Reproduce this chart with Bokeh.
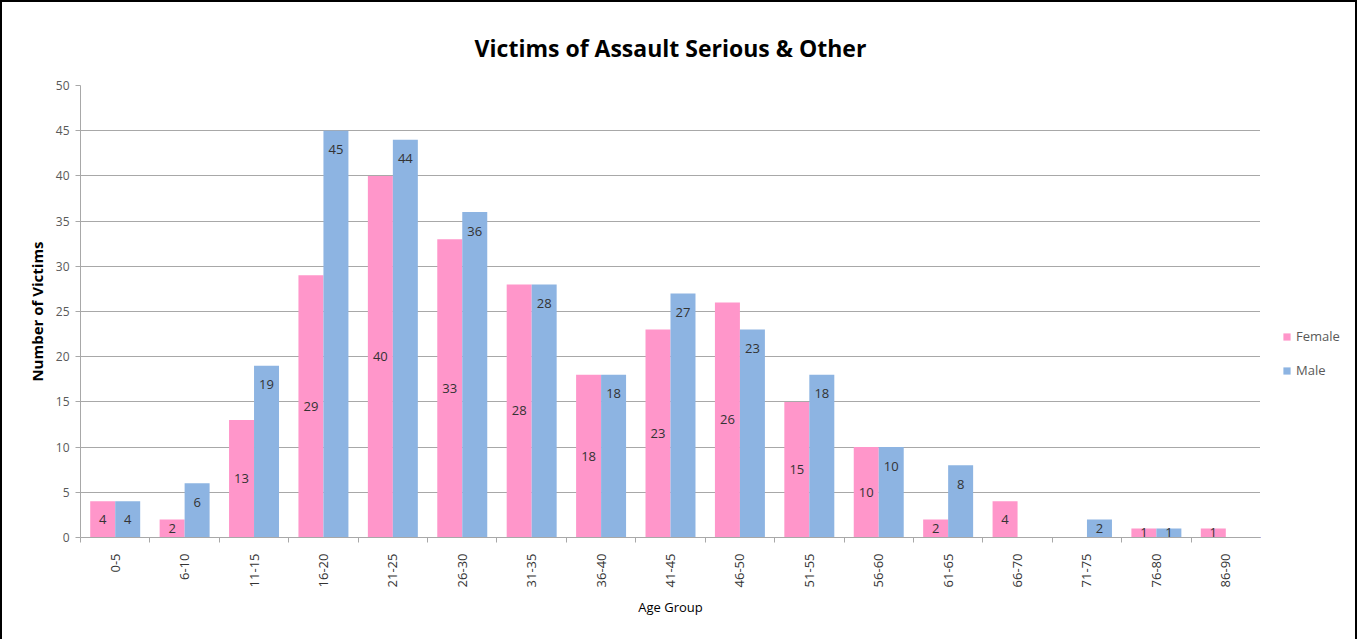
import math
from bokeh.plotting import figure
from bokeh.layouts import row
from bokeh.models import ColumnDataSource, FixedTicker, Range1d, Legend, LegendItem
from bokeh.core.properties import value
from bokeh.embed import file_html
from bokeh.resources import INLINE

categories = ["0-5", "6-10", "11-15", "16-20", "21-25", "26-30", "31-35", "36-40",
              "41-45", "46-50", "51-55", "56-60", "61-65", "66-70", "71-75", "76-80", "86-90"]
female = [4, 2, 13, 29, 40, 33, 28, 18, 23, 26, 15, 10, 2, 4, 0, 1, 1]
male = [4, 6, 19, 45, 44, 36, 28, 18, 27, 23, 18, 10, 8, 0, 2, 1, 0]
series_names = ["Female", "Male"]

PINK = "#FF96CA"
BLUE = "#8DB4E2"
FONT = "Open Sans"

n = len(categories)
centers = [i + 0.5 for i in range(n)]
bw = 0.36

f_src = ColumnDataSource(dict(
    x=[c - bw / 2 for c in centers], top=female,
    ly=[v / 2 for v in female], lab=[str(v) if v else "" for v in female]))
m_src = ColumnDataSource(dict(
    x=[c + bw / 2 for c in centers], top=male,
    ly=[max(v - 2.1, v / 2) for v in male], lab=[str(v) if v else "" for v in male]))

p = figure(width=1258, height=637, output_backend="svg", toolbar_location=None,
           x_range=Range1d(0, n), y_range=Range1d(0, 50),
           min_border_left=78, min_border_right=0, min_border_top=83, min_border_bottom=102)

p.title.text = "Victims of Assault Serious & Other"
p.title.align = "center"
p.title.text_font = FONT
p.title.text_font_size = "23px"
p.title.text_font_style = "bold"
p.title.text_color = "#000000"
p.title.standoff = 43

p.vbar(x="x", top="top", width=bw, source=f_src, fill_color=PINK, line_color=None)
p.vbar(x="x", top="top", width=bw, source=m_src, fill_color=BLUE, line_color=None)

for src in (f_src, m_src):
    p.text(x="x", y="ly", text="lab", source=src, text_align="center",
           text_baseline="middle", text_font=value(FONT), text_font_size="13px",
           text_color="#333333")

p.outline_line_color = None
p.xgrid.grid_line_color = None
p.ygrid.grid_line_color = "#A8A8A8"
p.ygrid.grid_line_width = 1
p.ygrid.ticker = FixedTicker(ticks=list(range(0, 51, 5)))

p.yaxis.ticker = FixedTicker(ticks=list(range(0, 51, 5)))
p.yaxis.axis_label = "Number of Victims"
p.yaxis.axis_label_text_font = FONT
p.yaxis.axis_label_text_font_size = "15px"
p.yaxis.axis_label_text_font_style = "bold"
p.yaxis.axis_label_text_color = "#000000"
p.yaxis.axis_label_standoff = 6
p.yaxis.major_label_text_font = FONT
p.yaxis.major_label_text_font_size = "12px"
p.yaxis.major_label_text_color = "#595959"
p.yaxis.major_label_standoff = 6
p.yaxis.axis_line_color = "#A8A8A8"
p.yaxis.major_tick_line_color = "#A8A8A8"
p.yaxis.major_tick_out = 5
p.yaxis.major_tick_in = 0
p.yaxis.minor_tick_line_color = None

p.xaxis.ticker = FixedTicker(ticks=centers, minor_ticks=list(range(0, n + 1)))
p.xaxis.major_label_overrides = {c: lab for c, lab in zip(centers, categories)}
p.xaxis.major_label_orientation = math.pi / 2
p.xaxis.major_label_text_font = FONT
p.xaxis.major_label_text_font_size = "13px"
p.xaxis.major_label_text_color = "#333333"
p.xaxis.major_label_standoff = 10
p.xaxis.major_tick_line_color = None
p.xaxis.minor_tick_line_color = "#A8A8A8"
p.xaxis.minor_tick_out = 5
p.xaxis.minor_tick_in = 0
p.xaxis.axis_line_color = "#A8A8A8"
p.xaxis.axis_label = "Age Group"
p.xaxis.axis_label_text_font = FONT
p.xaxis.axis_label_text_font_size = "13px"
p.xaxis.axis_label_text_font_style = "normal"
p.xaxis.axis_label_text_color = "#000000"
p.xaxis.axis_label_standoff = 8

# legend panel to the right of the plot area (series bars lie outside its view)
lg = figure(width=95, height=637, output_backend="svg", toolbar_location=None,
            x_range=Range1d(1000, 1001), y_range=Range1d(1000, 1001),
            min_border_left=0, min_border_right=0, min_border_top=0, min_border_bottom=0,
            x_axis_location=None, y_axis_location=None)
lg.grid.grid_line_color = None
lg.outline_line_color = None
r_f = lg.vbar(x="x", top="top", width=bw, source=f_src, fill_color=PINK, line_color=None)
r_m = lg.vbar(x="x", top="top", width=bw, source=m_src, fill_color=BLUE, line_color=None)
legend = Legend(items=[LegendItem(label=series_names[0], renderers=[r_f]),
                       LegendItem(label=series_names[1], renderers=[r_m])],
                location=(22, 157))
legend.label_text_font = FONT
legend.label_text_font_size = "13px"
legend.label_text_color = "#595959"
legend.glyph_width = 9
legend.glyph_height = 9
legend.label_height = 20
legend.spacing = 14
legend.padding = 0
legend.margin = 0
legend.border_line_color = None
legend.background_fill_alpha = 0
legend.label_standoff = 5
lg.add_layout(legend, "center")

layout = row(p, lg, spacing=0)
layout.styles = {"border-left": "2px solid #000000", "border-top": "2px solid #000000",
                 "border-right": "2px solid #000000"}

open("out.html", "w").write(file_html(layout, INLINE))
